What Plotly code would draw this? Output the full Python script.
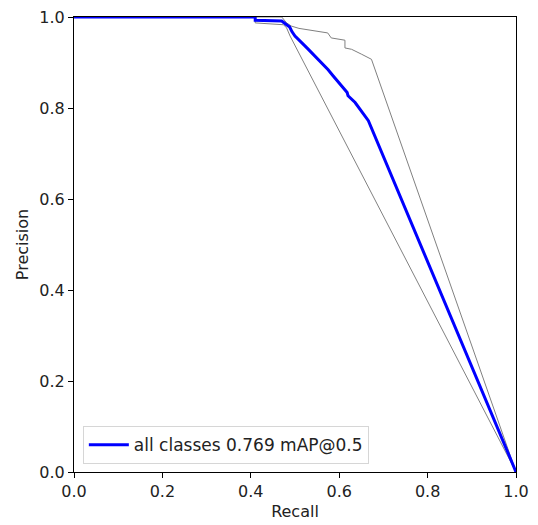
import plotly.graph_objects as go

# Per-class PR curves (gray)
class_a_recall = [0.0, 0.470, 0.481, 0.492, 0.509, 0.532, 0.574, 0.582, 0.597, 0.613, 0.613, 0.628, 0.651, 0.666, 0.673, 1.0]
class_a_precision = [1.0, 1.0, 0.987, 0.980, 0.975, 0.972, 0.965, 0.954, 0.952, 0.949, 0.932, 0.929, 0.918, 0.911, 0.907, 0.0]

class_b_recall = [0.0, 0.410, 0.410, 0.474, 0.481, 0.484, 0.489, 1.0]
class_b_precision = [1.0, 1.0, 0.987, 0.983, 0.976, 0.969, 0.958, 0.0]

# All-classes curve (blue)
all_recall = [0.0, 0.410, 0.410, 0.470, 0.481, 0.488, 0.493, 0.500, 0.527, 0.550, 0.575, 0.586,
              0.609, 0.618, 0.620, 0.636, 0.666, 1.0]
all_precision = [1.0, 1.0, 0.993, 0.991, 0.983, 0.978, 0.968, 0.958, 0.932, 0.910, 0.884, 0.871,
                 0.845, 0.834, 0.827, 0.812, 0.772, 0.0]

legend_label = "all classes 0.769 mAP@0.5"
tick_vals = [0.0, 0.2, 0.4, 0.6, 0.8, 1.0]

fig = go.Figure()
fig.add_trace(go.Scatter(x=class_a_recall, y=class_a_precision, mode="lines",
                         line=dict(color="#808080", width=1), showlegend=False, hoverinfo="skip"))
fig.add_trace(go.Scatter(x=class_b_recall, y=class_b_precision, mode="lines",
                         line=dict(color="#808080", width=1), showlegend=False, hoverinfo="skip"))
fig.add_trace(go.Scatter(x=all_recall, y=all_precision, mode="lines",
                         line=dict(color="blue", width=3), name=legend_label))

axis_common = dict(range=[0, 1], tickvals=tick_vals, tickformat=".1f", showgrid=False, zeroline=False,
                   showline=True, linecolor="black", linewidth=1, mirror=True,
                   ticks="outside", ticklen=5, tickcolor="black", tickwidth=1,
                   ticklabeloverflow="allow", automargin=False,
                   tickfont=dict(size=16, color="#222222"))

fig.update_layout(
    width=530, height=517,
    margin=dict(l=66, r=22, t=9, b=53),
    paper_bgcolor="white", plot_bgcolor="white",
    font=dict(family="DejaVu Sans", size=16, color="#222222"),
    xaxis=dict(**axis_common, title=dict(text="Recall", standoff=5, font=dict(size=16))),
    yaxis=dict(**axis_common, title=dict(text="Precision", standoff=6, font=dict(size=16))),
    legend=dict(x=0.02, y=0.017, xanchor="left", yanchor="bottom",
                bordercolor="#d6d6d6", borderwidth=1, bgcolor="rgba(255,255,255,0.8)",
                itemwidth=40, font=dict(size=17)),
)

fig.write_html("out.html")
